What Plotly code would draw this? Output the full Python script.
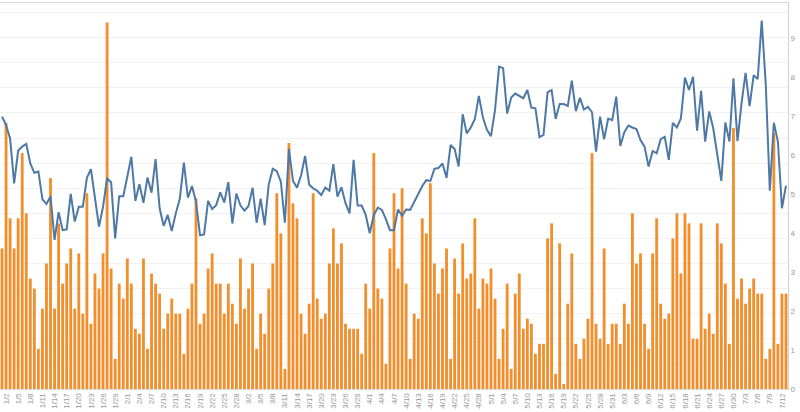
import pandas as pd
import plotly.graph_objects as go

# Daily categories: 2020-01-01 .. 2020-07-13
dates = pd.date_range("2020-01-01", "2020-07-13", freq="D")

# Bar series (left, hidden axis; gridlines every 5)
bar_values = [
    28, 53, 34, 28, 34, 47, 35, 22, 20, 8,
    16, 25, 42, 16, 33, 21, 25, 28, 16, 27,
    15, 39, 13, 23, 20, 27, 73, 24, 6, 21,
    18, 26, 21, 12, 11, 26, 8, 23, 21, 19,
    12, 15, 18, 15, 15, 7, 16, 21, 38, 13,
    15, 24, 27, 21, 21, 15, 21, 17, 13, 26,
    16, 20, 25, 8, 15, 11, 20, 25, 39, 31,
    4, 49, 37, 34, 15, 11, 17, 39, 18, 14,
    15, 25, 32, 25, 29, 13, 12, 12, 12, 7,
    21, 16, 47, 20, 18, 5, 28, 39, 24, 40,
    21, 6, 15, 14, 34, 31, 41, 25, 19, 24,
    28, 6, 26, 19, 29, 22, 23, 34, 16, 22,
    21, 24, 18, 6, 12, 21, 4, 19, 23, 12,
    14, 13, 7, 9, 9, 30, 33, 3, 29, 1,
    17, 27, 9, 6, 10, 14, 47, 13, 10, 28,
    9, 13, 13, 9, 17, 13, 35, 25, 27, 13,
    8, 27, 34, 17, 14, 15, 30, 35, 23, 35,
    33, 10, 10, 33, 12, 15, 11, 33, 29, 21,
    9, 52, 18, 22, 17, 20, 22, 19, 19, 6,
    8, 51, 9, 19, 19,
]

# Line series (right axis, 0-9)
line_values = [
    6.98, 6.76, 6.42, 5.27, 6.11, 6.21, 6.28, 5.78, 5.54, 5.57,
    4.86, 4.74, 4.94, 3.82, 4.53, 4.07, 4.09, 5.00, 4.29, 4.67,
    4.67, 5.41, 5.63, 4.88, 4.16, 4.67, 5.40, 5.29, 3.86, 4.94,
    4.94, 5.44, 5.95, 4.82, 5.25, 4.77, 5.42, 5.03, 5.89, 4.63,
    4.18, 4.46, 4.05, 4.50, 4.88, 5.80, 4.90, 5.20, 4.80, 3.94,
    3.96, 4.82, 4.61, 4.71, 5.04, 4.78, 5.30, 4.24, 5.01, 4.70,
    4.57, 4.69, 5.16, 4.26, 4.88, 4.20, 5.24, 5.64, 5.58, 5.31,
    4.26, 6.15, 5.33, 5.16, 5.47, 5.97, 5.24, 5.14, 5.08, 4.97,
    5.16, 5.08, 5.76, 4.93, 5.17, 4.76, 4.50, 5.87, 4.70, 4.70,
    4.46, 3.99, 4.46, 4.65, 4.59, 4.35, 4.07, 4.07, 4.60, 4.44,
    4.60, 4.59, 4.80, 5.03, 5.20, 5.35, 5.33, 5.64, 5.66, 5.78,
    5.41, 6.25, 6.15, 5.70, 7.04, 6.55, 6.70, 6.91, 7.51, 6.96,
    6.64, 6.48, 7.15, 8.26, 8.22, 7.06, 7.47, 7.57, 7.51, 7.45,
    7.66, 7.21, 7.19, 6.45, 6.51, 7.60, 7.66, 6.92, 7.30, 7.30,
    7.25, 7.90, 7.12, 7.46, 7.16, 7.23, 7.09, 6.08, 6.98, 6.40,
    6.93, 6.89, 7.49, 6.23, 6.58, 6.75, 6.70, 6.66, 6.38, 6.21,
    5.70, 6.10, 6.04, 6.40, 6.46, 5.87, 6.82, 6.70, 6.93, 7.98,
    7.66, 8.00, 6.62, 7.64, 6.34, 7.11, 6.68, 5.95, 5.33, 6.83,
    6.34, 7.96, 6.35, 7.32, 8.10, 7.25, 8.04, 7.94, 9.44, 7.80,
    5.08, 6.82, 6.34, 4.63, 5.21,
]

tick_dates = dates[1::3]
tick_labels = [f"{d.month}/{d.day}" for d in tick_dates]
right_ticks = list(range(0, 10))

fig = go.Figure()
fig.add_trace(go.Bar(
    x=dates, y=bar_values, marker=dict(color="#F28E2B", line=dict(width=0)),
    yaxis="y", showlegend=False,
))
fig.add_trace(go.Scatter(
    x=dates, y=line_values, mode="lines",
    line=dict(color="#4E79A7", width=2), yaxis="y2", showlegend=False,
))

fig.update_layout(
    width=800, height=412,
    margin=dict(l=0, r=12, t=3, b=23),
    paper_bgcolor="white", plot_bgcolor="white",
    bargap=0.3,
    xaxis=dict(
        type="date",
        range=["2019-12-31 12:00", "2020-07-13 12:00"],
        tickmode="array", tickvals=tick_dates, ticktext=tick_labels,
        tickangle=-90, tickfont=dict(size=8, color="#999999", family="Arial"),
        showgrid=False, showline=True, linecolor="#d9d9d9", linewidth=1,
        mirror=True, ticks="", zeroline=False,
    ),
    yaxis=dict(
        range=[0, 76.9], dtick=5, showticklabels=False,
        showgrid=True, gridcolor="#f2f2f2", gridwidth=1, zeroline=False,
    ),
    yaxis2=dict(
        overlaying="y", side="right", range=[0, 9.89],
        tickmode="array", tickvals=right_ticks,
        tickfont=dict(size=8, color="#999999", family="Arial"),
        showgrid=False, showline=True, linecolor="#d0d0d0", linewidth=1,
        zeroline=False, ticks="",
    ),
)

fig.write_html("out.html")
